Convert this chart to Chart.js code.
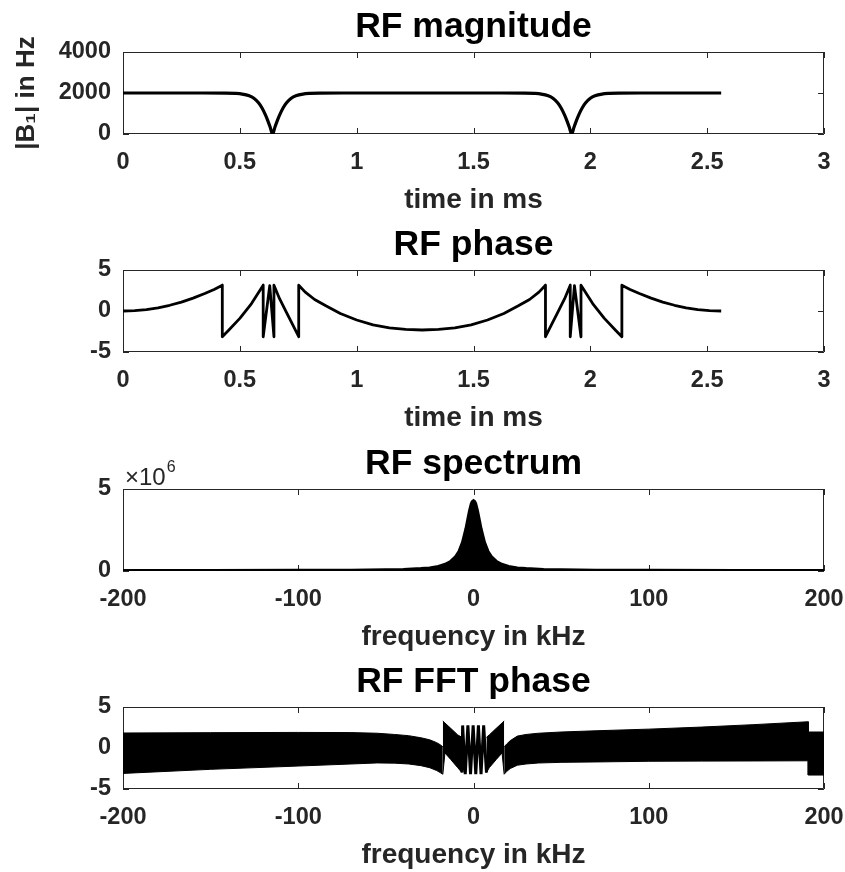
<!DOCTYPE html>
<html>
<head>
<meta charset="utf-8">
<script src="https://cdn.jsdelivr.net/npm/chart.js@4.4.0/dist/chart.umd.min.js"></script>
<style>
  html, body { margin: 0; padding: 0; background: #fff; overflow: hidden; width: 845px; height: 872px; }
  .panel { position: absolute; left: 0; width: 845px; height: 218px; }
</style>
</head>
<body>
<div class="panel" style="top:0px"><canvas id="magChart" width="845" height="218"></canvas></div>
<div class="panel" style="top:218px"><canvas id="phaseChart" width="845" height="218"></canvas></div>
<div class="panel" style="top:437px"><canvas id="specChart" width="845" height="218"></canvas></div>
<div class="panel" style="top:655px"><canvas id="fftChart" width="845" height="218"></canvas></div>
<script>
// RF magnitude, |B1| in Hz against time in ms
const magTime = [0, 0.34, 0.44, 0.48, 0.51, 0.54, 0.56, 0.58, 0.595, 0.61, 0.62, 0.63, 0.64, 0.65, 0.66, 0.67, 0.685, 0.70, 0.72, 0.74, 0.77, 0.80, 0.84, 0.94,
  1.62, 1.72, 1.76, 1.79, 1.82, 1.84, 1.86, 1.875, 1.89, 1.90, 1.91, 1.92, 1.93, 1.94, 1.95, 1.965, 1.98, 2.00, 2.02, 2.05, 2.08, 2.12, 2.22, 2.56];
const magValue = [2000, 2000, 1995, 1980, 1948, 1862, 1740, 1523, 1270, 924, 643, 330, 0, 330, 643, 924, 1270, 1523, 1740, 1862, 1948, 1980, 1995, 2000,
  2000, 1995, 1980, 1948, 1862, 1740, 1523, 1270, 924, 643, 330, 0, 330, 643, 924, 1270, 1523, 1740, 1862, 1948, 1980, 1995, 2000, 2000];

// RF phase in rad against time in ms
const phaseTime = [0, 0.05, 0.10, 0.15, 0.20, 0.25, 0.30, 0.35, 0.39, 0.425, 0.425, 0.45, 0.50, 0.55, 0.60, 0.60, 0.628, 0.646, 0.646,
  0.67, 0.70, 0.725, 0.752, 0.752, 0.78, 0.82, 0.87, 0.93, 1.00, 1.07, 1.14, 1.21, 1.28,
  1.35, 1.42, 1.49, 1.56, 1.63, 1.69, 1.74, 1.78, 1.808, 1.808, 1.835, 1.86, 1.89, 1.914, 1.914, 1.932, 1.96, 1.96,
  2.01, 2.06, 2.11, 2.135, 2.135, 2.17, 2.21, 2.26, 2.31, 2.36, 2.41, 2.46, 2.51, 2.56];
const phaseValue = [0, 0.04, 0.17, 0.39, 0.70, 1.09, 1.57, 2.13, 2.63, 3.14, -3.14, -2.4, -0.9, 0.9, 3.14, -3.14, 3.1, -3.14, 3.14,
  1.5, -0.2, -1.6, -3.14, 3.14, 2.3, 1.4, 0.6, -0.3, -1.1, -1.7, -2.05, -2.25, -2.32,
  -2.25, -2.05, -1.7, -1.1, -0.3, 0.6, 1.4, 2.3, 3.14, -3.14, -1.6, -0.2, 1.5, 3.14, -3.14, 3.1, -3.14, 3.14,
  0.9, -0.9, -2.4, -3.14, 3.14, 2.63, 2.13, 1.57, 1.09, 0.70, 0.39, 0.17, 0.04, 0];

// RF spectrum (units of 10^6) against frequency in kHz
const specFreq = [-200, -150, -100, -70, -50, -40, -30, -25, -20, -16, -13, -10, -8, -6, -4, -3, -2, -1, -0.5, 0,
  0.5, 1, 2, 3, 4, 6, 8, 10, 13, 16, 20, 25, 30, 40, 50, 70, 100, 150, 200];
const specValue = [0.003, 0.005, 0.01, 0.02, 0.042, 0.065, 0.115, 0.16, 0.25, 0.38, 0.55, 0.85, 1.19, 1.74, 2.59, 3.13, 3.66, 4.09, 4.21, 4.25,
  4.21, 4.09, 3.66, 3.13, 2.59, 1.74, 1.19, 0.85, 0.55, 0.38, 0.25, 0.16, 0.115, 0.065, 0.042, 0.02, 0.01, 0.005, 0.003];

// RF FFT phase: edges of the dense bands, the two lobes and the spikes in the middle
const leftBandFreq = [-200, -150, -100, -70, -55, -45, -37, -30, -25, -21, -19, -17.5];
const leftBandTop = [1.83, 1.87, 1.9, 1.88, 1.8, 1.65, 1.5, 1.25, 1.0, 0.65, 0.4, 0.15];
const leftBandBottom = [-3.1, -2.6, -2.2, -1.95, -1.82, -1.85, -1.95, -2.15, -2.4, -2.75, -3.0, -3.2];
const rightBandFreq = [17.5, 19, 21, 25, 30, 37, 50, 70, 100, 130, 160, 191, 191, 200];
const rightBandTop = [0.15, 0.5, 0.9, 1.45, 1.65, 1.8, 1.95, 2.1, 2.3, 2.55, 2.85, 3.2, 1.95, 1.95];
const rightBandBottom = [-3.2, -2.85, -2.5, -2.1, -1.95, -1.83, -1.75, -1.7, -1.62, -1.6, -1.58, -1.56, -3.3, -3.3];
const leftLobeFreq = [-17.5, -16.3, -13, -9, -6.6];
const leftLobeTop = [3.3, 3.05, 2.4, 1.6, 1.3];
const leftLobeBottom = [-3.2, -0.6, -1.4, -2.4, -3.0];
const rightLobeFreq = [7.4, 9, 13, 16.3, 17.5];
const rightLobeTop = [1.3, 1.6, 2.4, 3.05, 3.3];
const rightLobeBottom = [-3.0, -2.4, -1.4, -0.6, -3.2];
const spikeFreq = [-6.6, -6.2, -4.7, -3.2, -1.7, -0.2, 1.3, 2.8, 4.3, 5.8, 7.4];
const spikeValue = [-3.0, 2.75, -3.2, 2.75, -3.2, 2.75, -3.2, 2.75, -3.2, 2.75, -3.0];

const magTicks = [0, 2000, 4000];
const phaseTicks = [-5, 0, 5];
const specTicks = [0, 5];
const timeTicks = [0, 0.5, 1, 1.5, 2, 2.5, 3];
const freqTicks = [-200, -100, 0, 100, 200];

const FONT = '"Liberation Sans", Arial, Helvetica, sans-serif';
const AXIS = '#262626';
const TICK = 6;

const pts = (xs, ys) => xs.map((x, i) => ({ x: x, y: ys[i] }));

// matlab style box with inward ticks
const boxPlugin = {
  id: 'boxTicks',
  beforeDatasetsDraw(chart) {
    const { ctx, chartArea: a, scales: { x, y } } = chart;
    ctx.save();
    ctx.strokeStyle = AXIS;
    ctx.lineWidth = 1;
    ctx.beginPath();
    ctx.rect(a.left + 0.5, a.top + 0.5, a.right - a.left - 1, a.bottom - a.top - 1);
    x.ticks.forEach(t => {
      const px = Math.round(x.getPixelForValue(t.value)) + 0.5;
      ctx.moveTo(px, a.bottom); ctx.lineTo(px, a.bottom - TICK);
      ctx.moveTo(px, a.top); ctx.lineTo(px, a.top + TICK);
    });
    y.ticks.forEach(t => {
      const py = Math.round(y.getPixelForValue(t.value)) + 0.5;
      ctx.moveTo(a.left, py); ctx.lineTo(a.left + TICK, py);
      ctx.moveTo(a.right, py); ctx.lineTo(a.right - TICK, py);
    });
    ctx.stroke();
    ctx.restore();
  }
};

// the x10^6 exponent label over the spectrum axis
const exponentPlugin = {
  id: 'exponent',
  afterDraw(chart) {
    if (!chart.options.plugins.exponent || !chart.options.plugins.exponent.show) return;
    const { ctx, chartArea: a } = chart;
    ctx.save();
    ctx.fillStyle = AXIS;
    ctx.textBaseline = 'alphabetic';
    ctx.font = '24px ' + FONT;
    ctx.fillText('\u00d710', a.left + 2, a.top - 4);
    const w = ctx.measureText('\u00d710').width;
    ctx.font = '16px ' + FONT;
    ctx.fillText('6', a.left + 3 + w, a.top - 17);
    ctx.restore();
  }
};

function makePanel(id, o) {
  return new Chart(document.getElementById(id), {
    type: 'line',
    data: { datasets: o.datasets },
    options: {
      responsive: false,
      animation: false,
      events: [],
      layout: { padding: { left: 0, right: 21, top: 0, bottom: 0 } },
      elements: { point: { radius: 0 } },
      plugins: {
        legend: { display: false },
        tooltip: { enabled: false },
        exponent: { show: !!o.exponent },
        title: {
          display: true, text: o.title, color: '#000', fullSize: false,
          font: { family: FONT, size: 35.5, weight: 'bold' },
          padding: { top: 6.2, bottom: 3.2 }
        }
      },
      scales: {
        x: {
          type: 'linear', min: o.xTicks[0], max: o.xTicks[o.xTicks.length - 1],
          afterBuildTicks: s => { s.ticks = o.xTicks.map(v => ({ value: v })); },
          afterFit: s => { s.height = 84; s.paddingLeft = 0; s.paddingRight = 0; },
          grid: { display: false, drawTicks: false },
          border: { display: false },
          ticks: { color: AXIS, padding: 14, maxRotation: 0, autoSkip: false,
            font: { family: FONT, size: 23.5, weight: 'bold' }, callback: v => String(v) },
          title: { display: true, text: o.xLabel, color: AXIS,
            font: { family: FONT, size: 28, weight: 'bold' }, padding: { top: 0, bottom: 1.2 } }
        },
        y: {
          type: 'linear', min: o.yTicks[0], max: o.yTicks[o.yTicks.length - 1],
          afterBuildTicks: s => { s.ticks = o.yTicks.map(v => ({ value: v })); },
          afterFit: s => { s.width = 123; },
          grid: { display: false, drawTicks: false },
          border: { display: false },
          ticks: { color: AXIS, padding: 12,
            font: { family: FONT, size: 23.5, weight: 'bold' }, callback: v => String(v) },
          title: { display: !!o.yLabel, text: o.yLabel || '', color: AXIS,
            font: { family: FONT, size: 26, weight: 'bold' }, padding: { top: 11, bottom: 0 } }
        }
      }
    },
    plugins: [boxPlugin, exponentPlugin]
  });
}

const lineStyle = { borderColor: '#000', backgroundColor: '#000', fill: false, pointRadius: 0 };
const band = (xs, ys, fill) => Object.assign({}, lineStyle, { data: pts(xs, ys), borderWidth: 1, fill: fill || false });

makePanel('magChart', {
  title: 'RF magnitude', xLabel: 'time in ms', yLabel: '|B\u2081| in Hz',
  xTicks: timeTicks, yTicks: magTicks,
  datasets: [Object.assign({}, lineStyle, { data: pts(magTime, magValue), borderWidth: 3.2, cubicInterpolationMode: 'monotone' })]
});

makePanel('phaseChart', {
  title: 'RF phase', xLabel: 'time in ms',
  xTicks: timeTicks, yTicks: phaseTicks,
  datasets: [Object.assign({}, lineStyle, { data: pts(phaseTime, phaseValue), borderWidth: 2.8, borderJoinStyle: 'round' })]
});

makePanel('specChart', {
  title: 'RF spectrum', xLabel: 'frequency in kHz', exponent: true,
  xTicks: freqTicks, yTicks: specTicks,
  datasets: [Object.assign({}, lineStyle, { data: pts(specFreq, specValue), borderWidth: 4, fill: 'origin' })]
});

makePanel('fftChart', {
  title: 'RF FFT phase', xLabel: 'frequency in kHz',
  xTicks: freqTicks, yTicks: phaseTicks,
  datasets: [
    band(leftBandFreq, leftBandTop, '+1'),
    band(leftBandFreq, leftBandBottom),
    band(rightBandFreq, rightBandTop, '+1'),
    band(rightBandFreq, rightBandBottom),
    band(leftLobeFreq, leftLobeTop, '+1'),
    band(leftLobeFreq, leftLobeBottom),
    band(rightLobeFreq, rightLobeTop, '+1'),
    band(rightLobeFreq, rightLobeBottom),
    Object.assign({}, lineStyle, { data: pts(spikeFreq, spikeValue), borderWidth: 3 })
  ]
});
</script>
</body>
</html>
